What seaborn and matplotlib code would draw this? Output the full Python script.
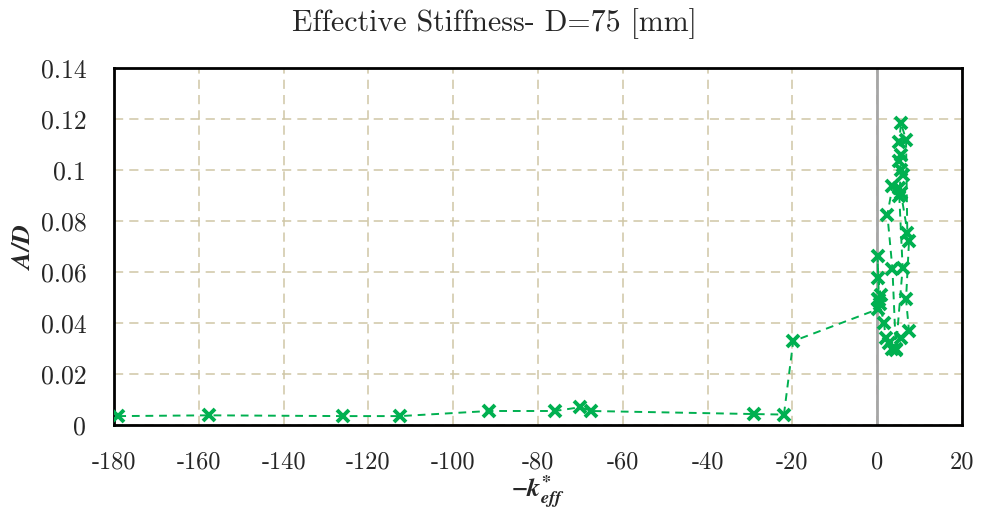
import numpy as np
import pandas as pd
import matplotlib
matplotlib.use("Agg")
import matplotlib.pyplot as plt
import seaborn as sns

# ---- data ----
k_eff = [-179.0, -157.5, -126.0, -112.5, -91.5, -76.0, -70.0, -67.5, -29.0, -22.0,
         -19.8, 0.3, 0.6, 0.2, 0.8, 0.2, 0.1, 0.4, 1.6, 2.0, 2.8, 3.6, 4.4,
         3.6, 2.4, 3.6, 5.2, 5.6, 7.5, 6.8, 7.5, 5.6, 4.4, 6.0, 5.2, 5.6, 6.0,
         5.2, 5.6, 5.2, 5.6, 6.8, 7.1]
a_over_d = [0.0035, 0.0038, 0.0035, 0.0035, 0.0055, 0.0055, 0.0070, 0.0055, 0.0043, 0.0041,
            0.0329, 0.0455, 0.0475, 0.0495, 0.0510, 0.0578, 0.0662, 0.0490, 0.0400, 0.0340,
            0.0320, 0.0297, 0.0300, 0.0610, 0.0825, 0.0936, 0.0930, 0.0910, 0.0720, 0.0493,
            0.0369, 0.0340, 0.0295, 0.0617, 0.0900, 0.1000, 0.0980, 0.1034, 0.1060, 0.1110,
            0.1184, 0.1119, 0.0754]
x_ticks = [-180, -160, -140, -120, -100, -80, -60, -40, -20, 0, 20]
x_tick_labels = ["-180", "-160", "-140", "-120", "-100", "-80", "-60", "-40", "-20", "0", "20"]
y_ticks = [0, 0.02, 0.04, 0.06, 0.08, 0.1, 0.12, 0.14]
y_tick_labels = ["0", "0.02", "0.04", "0.06", "0.08", "0.1", "0.12", "0.14"]
title = "Effective Stiffness- D=75 [mm]"

df = pd.DataFrame({"k": k_eff, "ad": a_over_d, "order": np.arange(len(k_eff))})

sns.set_theme(style="white")
plt.rcParams["mathtext.fontset"] = "cm"
plt.rcParams["axes.unicode_minus"] = False

fig = plt.figure(figsize=(9.89, 5.18), dpi=100)
ax = fig.add_axes([0.1153, 0.1795, 0.9727 - 0.1153, 0.8687 - 0.1795])

green = "#00B050"
ax.axvline(0, color="#a6a6a6", lw=2, zorder=1)
sns.lineplot(data=df, x="k", y="ad", sort=False, estimator=None, ax=ax,
             color=green, lw=1.4, linestyle=(0, (4, 3)), marker="x",
             markersize=9, markeredgewidth=2.8, markeredgecolor=green, zorder=3)

ax.set_xlim(-180, 20)
ax.set_ylim(0, 0.14)
ax.set_xticks(x_ticks)
ax.set_yticks(y_ticks)
ax.set_xticklabels(x_tick_labels, fontfamily="cmr10", fontsize=17.5)
ax.set_yticklabels(y_tick_labels, fontfamily="cmr10", fontsize=18.5)
ax.tick_params(axis="x", length=0, pad=19)
ax.tick_params(axis="y", length=0, pad=20)

ax.grid(True, color="#cfc6a6", linestyle=(0, (6, 4)), lw=1.1)
ax.set_axisbelow(True)
for s in ax.spines.values():
    s.set_color("black")
    s.set_linewidth(2)

ax.set_xlabel(r"$\mathbfit{-k^{*}_{eff}}$", fontsize=19, labelpad=0, math_fontfamily="stix")
ax.set_ylabel(r"$\mathbfit{A/D}$", fontsize=19, labelpad=3, math_fontfamily="stix")
fig.suptitle(title, fontfamily="cmr10", fontsize=21.5, y=0.985)

fig.savefig("out.png", dpi=100)
